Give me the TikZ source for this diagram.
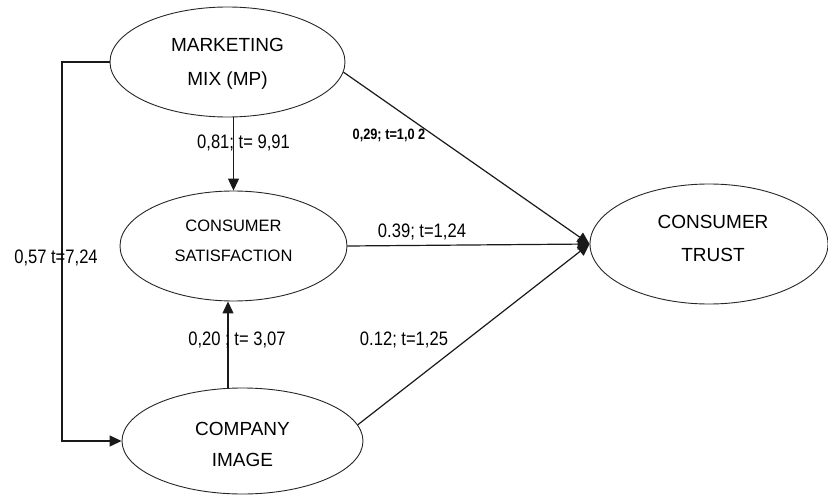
\documentclass[tikz,border=0pt]{standalone}
\usepackage{fontspec}
\setmainfont{Liberation Sans}
\newfontfamily\lblfont[FakeStretch=0.85]{Liberation Sans}
\newfontfamily\smlfont[FakeStretch=0.85]{Liberation Sans}
\usetikzlibrary{shapes.geometric,arrows.meta,calc}
\begin{document}
\begin{tikzpicture}[x=1pt,y=-1pt,
  latent/.style={ellipse,draw=black!85,line width=0.9pt,inner sep=0pt},
  intext/.style={inner sep=0pt,align=center,font=\fontsize{19}{34}\selectfont},
  link/.style={draw=black!90,line width=1.2pt},
  arr/.style={link,-{Triangle[length=12pt,width=11pt]}},
  lbl/.style={font=\lblfont\fontsize{19.5}{21}\selectfont,inner sep=0pt},
  sml/.style={font=\smlfont\bfseries\fontsize{15}{17}\selectfont,inner sep=0pt}]
\useasboundingbox (0,0) rectangle (828,495);
% nodes
\node[latent,minimum width=235pt,minimum height=110pt] (mm) at (227.5,62) {};
\node[latent,minimum width=227pt,minimum height=110pt] (cs) at (233.5,246) {};
\node[latent,minimum width=241pt,minimum height=106pt] (ci) at (242.5,441) {};
\node[latent,minimum width=238pt,minimum height=120pt] (ct) at (709,244) {};
\node[intext] (mmt) at ([yshift=-1.5pt]mm.center) {MARKETING\\MIX (MP)};
\node[intext,font=\fontsize{16.5}{30}\selectfont] (cst) at ([yshift=5pt]cs.center) {CONSUMER\\SATISFACTION};
\node[intext,font=\fontsize{19}{31}\selectfont] (cit) at ([yshift=-3pt]ci.center) {COMPANY\\IMAGE};
\node[intext,font=\fontsize{19}{33}\selectfont] (ctt) at ([xshift=4pt,yshift=5.5pt]ct.center) {CONSUMER\\TRUST};
% connectors
\draw[arr] (cs.north |- mm.south) -- (cs.north);
\draw[arr] ([xshift=-5.5pt]cs.south |- ci.north) -- ([xshift=-5.5pt]cs.south);
\coordinate (lb) at (62,62);
\draw[arr] (mm.west) -- (lb) |- (ci.west);
\draw[arr] (mm.-5) -- (ct.west);
\draw[arr] (cs.east) -- (ct.west);
\draw[arr] (ci.8) -- (ct.west);
% labels
\node[lbl] (l1) at (243.5,143) {0,81; t= 9,91};
\node[sml] (l2) at (389,135) {0,29; t=1,0 2};
\node[lbl] (l3) at (422,232) {0.39; t=1,24};
\node[lbl] (l4) at (56,258) {0,57 t=7,24};
\node[lbl] (l5) at (237,340) {0,20 ; t= 3,07};
\node[lbl] (l6) at (404,340) {0.12; t=1,25};
\end{tikzpicture}
\end{document}
